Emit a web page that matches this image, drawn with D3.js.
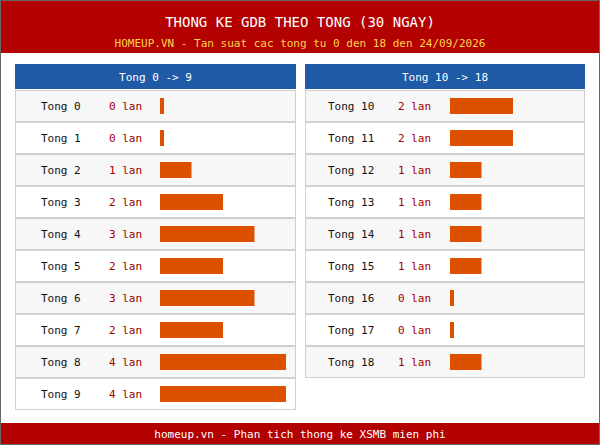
<!DOCTYPE html><html><head><meta charset="utf-8"><script src="https://cdn.jsdelivr.net/npm/d3@7"></script>
<style>body{margin:0}svg{display:block;font-family:"DejaVu Sans Mono",monospace}</style></head><body><svg id="c" width="600" height="445"></svg><script>
const leftCats=["Tong 0","Tong 1","Tong 2","Tong 3","Tong 4","Tong 5","Tong 6","Tong 7","Tong 8","Tong 9"];
const leftVals=[0,0,1,2,3,2,3,2,4,4];
const rightCats=["Tong 10","Tong 11","Tong 12","Tong 13","Tong 14","Tong 15","Tong 16","Tong 17","Tong 18"];
const rightVals=[2,2,1,1,1,1,0,0,1];
const svg=d3.select("#c");
svg.append("rect").attr("width",600).attr("height",445).attr("fill","#fff");
svg.append("rect").attr("width",600).attr("height",53).attr("fill","#b30000");
svg.append("rect").attr("y",423).attr("width",600).attr("height",22).attr("fill","#b30000");
svg.append("rect").attr("x",0.5).attr("y",0.5).attr("width",599).attr("height",444).attr("fill","none").attr("stroke","#666");
svg.append("text").attr("x",300).attr("y",27).attr("text-anchor","middle").attr("fill","#fff").attr("font-size",14).text("THONG KE GDB THEO TONG (30 NGAY)");
svg.append("text").attr("x",300).attr("y",47).attr("text-anchor","middle").attr("fill","#ffd54a").attr("font-size",11).text("HOMEUP.VN - Tan suat cac tong tu 0 den 18 den 24/09/2026");
svg.append("text").attr("x",300).attr("y",438).attr("text-anchor","middle").attr("fill","#fff").attr("font-size",11).text("homeup.vn - Phan tich thong ke XSMB mien phi");
const x=d3.scaleLinear().domain([0,4]).range([0,126]);
function panel(x0,w,title,cats,vals,lx,nx,bx){
  const g=svg.append("g");
  g.append("rect").attr("x",x0).attr("y",64).attr("width",w).attr("height",25).attr("fill","#1f5aa6");
  g.append("text").attr("x",x0+w/2).attr("y",80.5).attr("text-anchor","middle").attr("fill","#fff").attr("font-size",11).text(title);
  const y=d3.scaleBand().domain(cats).range([90,90+32*cats.length]);
  cats.forEach((c,i)=>{
    const yy=y(c);
    g.append("rect").attr("x",x0+0.5).attr("y",yy+0.5).attr("width",w-1).attr("height",31).attr("fill",i%2?"#fff":"#f7f7f7").attr("stroke","#d0d0d0");
    g.append("text").attr("x",lx).attr("y",yy+20).attr("font-size",11).attr("fill","#111").text(c);
    g.append("text").attr("x",nx).attr("y",yy+20).attr("font-size",11).attr("fill","#a00000").text(vals[i]+" lan");
    g.append("rect").attr("x",bx).attr("y",yy+8).attr("width",Math.max(4,x(vals[i]))).attr("height",16).attr("fill","#dd5000");
  });
}
panel(15,281,"Tong 0 -> 9",leftCats,leftVals,41,109,160);
panel(305,280,"Tong 10 -> 18",rightCats,rightVals,328,398,450);
</script></body></html>
